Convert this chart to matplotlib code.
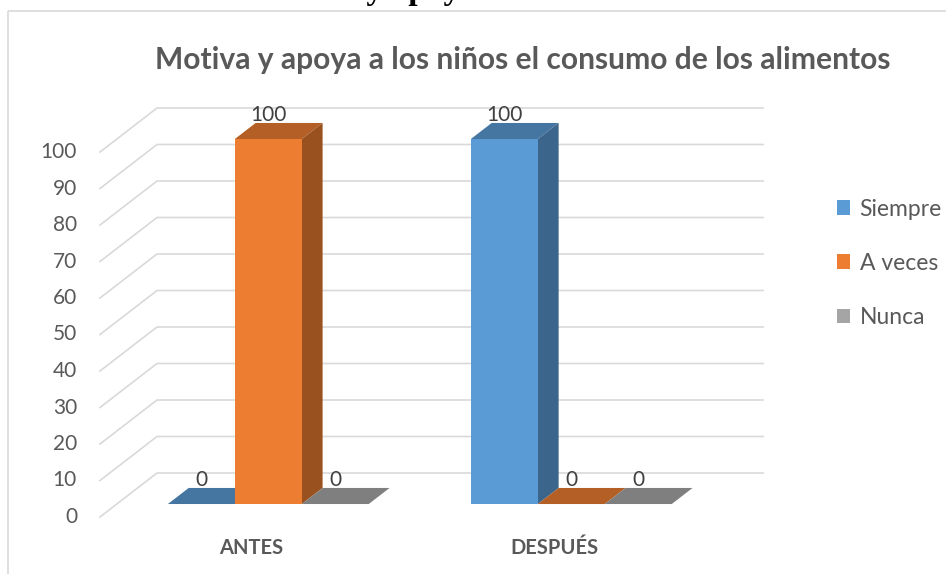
import matplotlib
matplotlib.use("Agg")
import matplotlib.pyplot as plt
from matplotlib.patches import Polygon, Rectangle, Patch

# data
categories = ["ANTES", "DESPUÉS"]
series = ["Siempre", "A veces", "Nunca"]
siempre = [0, 100]
a_veces = [100, 0]
nunca = [0, 0]
yticks = [0, 10, 20, 30, 40, 50, 60, 70, 80, 90, 100]

FRONT = ["#5B9BD5", "#ED7D31", "#A5A5A5"]
SIDE = ["#3B658A", "#9A5120", "#6B6B6B"]
TOP = ["#4576A2", "#B45F25", "#7F7F7F"]
GRID, TXT, LBL = "#d9d9d9", "#595959", "#404040"
FONT = "Lato"

W, H = 946, 574
fig = plt.figure(figsize=(W / 100, H / 100), dpi=100)

# decoration layer in pixel coords (border + cut-off document heading)
deco = fig.add_axes([0, 0, 1, 1]); deco.axis("off")
deco.set_xlim(0, W); deco.set_ylim(H, 0)
deco.add_patch(Rectangle((8, 10.5), W + 20, H + 20, fill=False, ec="#d9d9d9", lw=1.2))
deco.text(256, -1, "Motiva y apoya a los niños el consumo de los alimentos", ha="left",
          va="baseline", fontsize=24, fontweight="bold", family="Liberation Serif", color="black")

# chart layer: x in category units, y in value units (pseudo-3D projection)
X0, CAT, Y0, UNIT = 100, 303, 517, 3.65          # pixel layout of the front plane
ax = fig.add_axes([0, 0, 1, 1]); ax.axis("off")
ax.set_xlim(-X0 / CAT, (W - X0) / CAT)
ax.set_ylim(-(H - Y0) / UNIT, Y0 / UNIT)
DX, DY = 57 / CAT, 44 / UNIT                      # full depth vector
f0, f1 = 0.295, 0.66                              # bar depth range
ncat = len(categories)

for v in yticks:
    ax.plot([0, DX, DX + ncat], [v, v + DY, v + DY], color=GRID, lw=1.2, zorder=1)
    ax.text(-23 / CAT, v, str(v), ha="right", va="center", fontsize=15, color=TXT, family=FONT)

bw = 0.221
gap = 1 - 3 * bw
dx, dy = (f1 - f0) * DX, (f1 - f0) * DY
for i, cat in enumerate(categories):
    for j, vals in enumerate([siempre, a_veces, nunca]):
        v = vals[i]
        xl = i + gap / 2 + j * bw + f0 * DX
        xr = xl + bw
        yb = f0 * DY
        ax.add_patch(Polygon([(xl, yb + v), (xr, yb + v), (xr + dx, yb + v + dy), (xl + dx, yb + v + dy)],
                             closed=True, fc=TOP[j], ec="none", zorder=3))
        if v > 0:
            ax.add_patch(Polygon([(xr, yb), (xr + dx, yb + dy), (xr + dx, yb + dy + v), (xr, yb + v)],
                                 closed=True, fc=SIDE[j], ec="none", zorder=3))
            ax.add_patch(Rectangle((xl, yb), bw, v, fc=FRONT[j], ec="none", zorder=3))
        ax.text((xl + xr) / 2, v + f1 * DY - 0.5, str(v), ha="center", va="bottom",
                fontsize=15, color=LBL, family=FONT, zorder=4)
    ax.text(i + 0.5, -(548 - Y0) / UNIT, cat, ha="center", va="center", fontsize=14.5,
            fontweight="bold", color=TXT, family=FONT)

fig.text(523 / W, 1 - 60 / H, "Motiva y apoya a los niños el consumo de los alimentos",
         ha="center", va="center", fontsize=21.6, fontweight="bold", color=TXT, family=FONT)

handles = [Patch(fc=c, ec="none") for c in FRONT]
leg = fig.legend(handles, series, loc="upper left", bbox_to_anchor=(816 / W, 1 - 178 / H),
                 frameon=False, handlelength=0.6, handleheight=0.6, handletextpad=0.4,
                 labelspacing=1.45, prop={"family": FONT, "size": 16.5})
for t in leg.get_texts():
    t.set_color(TXT)

fig.savefig("out.png", dpi=100)
